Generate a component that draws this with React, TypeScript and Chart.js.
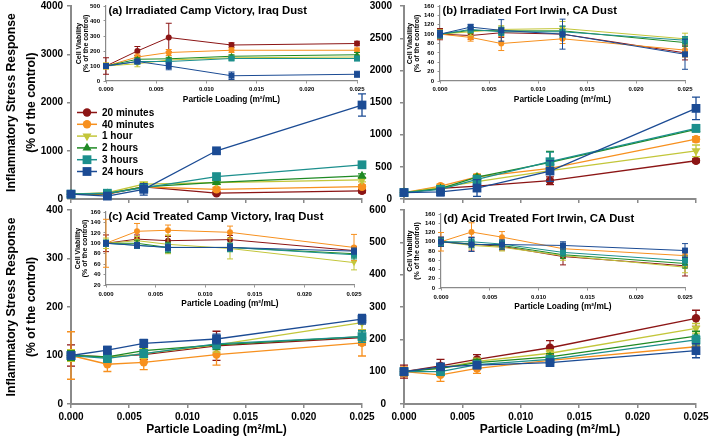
import React, { useEffect, useRef } from "react";
import { Chart, registerables } from "chart.js";

Chart.register(...registerables);

const PAGE_W = 709;
const PAGE_H = 438;
const FONT = "'Liberation Sans', Arial, Helvetica, sans-serif";
const AXIS = "#8a8a8a";

// ---------- data ----------
const loadings = [0, 0.003125, 0.00625, 0.0125, 0.025];
const seriesNames = ["20 minutes", "40 minutes", "1 hour", "2 hours", "3 hours", "24 hours"];
const seriesColors = ["#8c1515", "#f7901e", "#c3c63a", "#1f8a24", "#1c8f8d", "#1b4b94"];
const seriesMarkers = ["circle", "circle", "triangleDown", "triangle", "rect", "rect"];

const panelTitles = [
  "(a) Irradiated Camp Victory, Iraq Dust",
  "(b) Irradiated Fort Irwin, CA Dust",
  "(c) Acid Treated Camp Victory, Iraq Dust",
  "(d) Acid Treated Fort Irwin, CA Dust",
];
const xAxisTitle = "Particle Loading (m²/mL)";
const yTitleMain = ["Inflammatory Stress Response", "(% of the control)"];
const yTitleInset = ["Cell Viability", "(% of the control)"];

// (a) main: inflammatory stress response
const aMainValues = [
  [100, 100, 250, 120, 170],
  [100, 110, 250, 200, 255],
  [100, 130, 310, 340, 395],
  [100, 110, 250, 345, 480],
  [100, 120, 230, 465, 710],
  [100, 60, 200, 1000, 1950],
];
const aMainErrors = [
  [15, 20, 30, 30, 40],
  [15, 20, 30, 40, 40],
  [15, 30, 40, 30, 40],
  [15, 30, 40, 30, 40],
  [15, 30, 60, 60, 60],
  [15, 40, 120, 40, 230],
];
// (a) inset: cell viability
const aInsetValues = [
  [100, 200, 290, 240, 250],
  [100, 160, 190, 205, 205],
  [100, 115, 140, 155, 160],
  [100, 145, 148, 165, 175],
  [100, 130, 130, 150, 150],
  [100, 130, 100, 35, 45],
];
const aInsetErrors = [
  [55, 30, 95, 15, 15],
  [20, 20, 20, 15, 15],
  [20, 20, 15, 15, 15],
  [10, 10, 10, 10, 15],
  [10, 10, 10, 10, 15],
  [10, 15, 25, 25, 20],
];
// (b) main
const bMainValues = [
  [100, 165, 200, 285, 595],
  [100, 200, 345, 475, 930],
  [100, 180, 270, 440, 750],
  [100, 160, 340, 570, 1085],
  [100, 150, 305, 580, 1100],
  [100, 110, 170, 435, 1410],
];
const bMainErrors = [
  [15, 20, 30, 60, 30],
  [15, 30, 40, 50, 40],
  [15, 20, 30, 50, 90],
  [15, 20, 30, 170, 40],
  [15, 20, 60, 150, 50],
  [15, 60, 130, 160, 175],
];
// (b) inset
const bInsetValues = [
  [100, 97, 103, 100, 60],
  [100, 93, 80, 90, 66],
  [100, 105, 110, 112, 90],
  [100, 108, 107, 107, 82],
  [100, 110, 105, 105, 87],
  [100, 115, 108, 100, 57],
];
const bInsetErrors = [
  [12, 8, 10, 10, 15],
  [10, 8, 15, 10, 15],
  [8, 8, 8, 15, 12],
  [8, 6, 8, 10, 8],
  [8, 6, 8, 12, 8],
  [8, 6, 23, 32, 32],
];
// (c) main
const cMainValues = [
  [100, 97, 102, 120, 137],
  [100, 82, 86, 102, 126],
  [100, 96, 104, 122, 168],
  [100, 97, 110, 122, 139],
  [100, 94, 104, 124, 139],
  [100, 111, 125, 134, 175],
];
const cMainErrors = [
  [22, 8, 10, 30, 15],
  [49, 15, 15, 22, 27],
  [12, 8, 10, 15, 15],
  [10, 8, 8, 10, 12],
  [8, 8, 8, 10, 12],
  [5, 8, 8, 10, 10],
];
// (c) inset
const cInsetValues = [
  [100, 108, 105, 107, 86],
  [100, 123, 125, 121, 92],
  [100, 105, 98, 90, 63],
  [100, 100, 92, 92, 80],
  [100, 96, 92, 92, 78],
  [100, 96, 92, 92, 85],
];
const cInsetErrors = [
  [16, 8, 8, 8, 8],
  [46, 15, 10, 12, 25],
  [10, 8, 18, 20, 14],
  [6, 6, 10, 8, 8],
  [6, 6, 8, 8, 8],
  [5, 5, 6, 6, 6],
];
// (d) main
const dMainValues = [
  [100, 118, 138, 174, 265],
  [100, 90, 110, 135, 177],
  [100, 112, 132, 157, 234],
  [100, 110, 128, 146, 210],
  [100, 100, 122, 138, 198],
  [100, 115, 120, 128, 165],
];
const dMainErrors = [
  [20, 20, 15, 22, 25],
  [15, 20, 15, 15, 15],
  [10, 10, 10, 10, 15],
  [10, 10, 10, 10, 15],
  [10, 10, 10, 10, 15],
  [12, 10, 10, 8, 22],
];
// (d) inset
const dInsetValues = [
  [100, 95, 90, 68, 48],
  [100, 121, 110, 85, 70],
  [100, 92, 88, 70, 45],
  [100, 95, 92, 72, 53],
  [100, 100, 95, 77, 59],
  [100, 94, 94, 92, 81],
];
const dInsetErrors = [
  [10, 15, 8, 18, 22],
  [20, 20, 12, 10, 10],
  [8, 8, 8, 10, 12],
  [8, 8, 8, 8, 10],
  [8, 8, 8, 8, 10],
  [10, 15, 10, 8, 15],
];

// ---------- styles ----------
type Style = {
  lineWidth: number;
  radius: Record<string, number>;
  cap: number;
  errWidth: number;
  tickFont: number;
  axisWidth: number;
  tickLen: number;
};
const MAIN_STYLE: Style = {
  lineWidth: 1.3,
  radius: { circle: 4.2, triangle: 5.2, triangleDown: 5.2, rect: 6.2 },
  cap: 4,
  errWidth: 1.3,
  tickFont: 10,
  axisWidth: 2,
  tickLen: 4,
};
const INSET_STYLE: Style = {
  lineWidth: 1,
  radius: { circle: 3, triangle: 3.6, triangleDown: 3.6, rect: 4.2 },
  cap: 3,
  errWidth: 1,
  tickFont: 6,
  axisWidth: 1.2,
  tickLen: 2.5,
};

type PanelSpec = {
  L: number; T: number; R: number; B: number;
  yBoxLeft: number; xBoxBottom: number;
  yMin: number; yMax: number; yStep: number;
  values: number[][]; errors: number[][];
  inset: boolean;
  showXLabels: boolean;
  xLabelPad: number;
  yLabelPad: number;
  yTitle?: string[];
  xTitle?: string;
  title?: string;
  legend?: boolean;
};

// ---------- plugins ----------
const errorBarPlugin = {
  id: "errorBars",
  beforeDatasetDraw(chart: any, args: any, opts: any) {
    const ds = chart.data.datasets[args.index];
    const errs: number[] = ds.errors || [];
    const y = chart.scales.y;
    const ctx = chart.ctx;
    ctx.save();
    ctx.strokeStyle = ds.borderColor;
    ctx.lineWidth = opts.width;
    args.meta.data.forEach((pt: any, j: number) => {
      const v = ds.data[j].y;
      const e = errs[j] || 0;
      if (!e) return;
      const yt = y.getPixelForValue(v + e);
      const yb = y.getPixelForValue(v - e);
      ctx.beginPath();
      ctx.moveTo(pt.x, yt);
      ctx.lineTo(pt.x, yb);
      ctx.moveTo(pt.x - opts.cap, yt);
      ctx.lineTo(pt.x + opts.cap, yt);
      ctx.moveTo(pt.x - opts.cap, yb);
      ctx.lineTo(pt.x + opts.cap, yb);
      ctx.stroke();
    });
    ctx.restore();
  },
};

const panelTitlePlugin = {
  id: "panelTitle",
  afterDraw(chart: any, _args: any, opts: any) {
    if (!opts || !opts.text) return;
    const ctx = chart.ctx;
    const a = chart.chartArea;
    ctx.save();
    ctx.font = `bold ${opts.size}px ${FONT}`;
    ctx.fillStyle = "#000";
    ctx.textBaseline = "middle";
    ctx.textAlign = "left";
    ctx.fillText(opts.text, a.left + opts.dx, a.top + opts.dy);
    ctx.restore();
  },
};

function drawMarker(ctx: CanvasRenderingContext2D, kind: string, x: number, y: number) {
  ctx.beginPath();
  if (kind === "circle") {
    ctx.arc(x, y, 4.2, 0, Math.PI * 2);
  } else if (kind === "rect") {
    ctx.rect(x - 4.4, y - 4.4, 8.8, 8.8);
  } else {
    const r = 5.2;
    const dir = kind === "triangleDown" ? -1 : 1;
    ctx.moveTo(x, y - dir * r);
    ctx.lineTo(x + r * 0.866, y + dir * r * 0.5);
    ctx.lineTo(x - r * 0.866, y + dir * r * 0.5);
    ctx.closePath();
  }
  ctx.fill();
}

const lineLegendPlugin = {
  id: "lineLegend",
  afterDraw(chart: any, _args: any, opts: any) {
    if (!opts || !opts.show) return;
    const ctx = chart.ctx;
    ctx.save();
    seriesNames.forEach((name, i) => {
      const y = opts.y + i * opts.dy;
      const c = seriesColors[i];
      ctx.strokeStyle = c;
      ctx.fillStyle = c;
      ctx.lineWidth = 1.5;
      ctx.beginPath();
      ctx.moveTo(opts.x, y);
      ctx.lineTo(opts.x + 20, y);
      ctx.stroke();
      drawMarker(ctx, seriesMarkers[i], opts.x + 10, y);
      ctx.fillStyle = "#000";
      ctx.font = `bold 10px ${FONT}`;
      ctx.textBaseline = "middle";
      ctx.textAlign = "left";
      ctx.fillText(name, opts.x + 25, y + 0.5);
    });
    ctx.restore();
  },
};

// ---------- config ----------
function buildConfig(p: PanelSpec): any {
  const s = p.inset ? INSET_STYLE : MAIN_STYLE;
  const datasets = seriesNames.map((name, i) => {
    const mk = seriesMarkers[i];
    return {
      label: name,
      data: loadings.map((x, j) => ({ x, y: p.values[i][j] })),
      errors: p.errors[i],
      borderColor: seriesColors[i],
      backgroundColor: seriesColors[i],
      pointBackgroundColor: seriesColors[i],
      pointBorderColor: seriesColors[i],
      borderWidth: s.lineWidth,
      pointStyle: mk === "triangleDown" ? "triangle" : mk,
      pointRotation: mk === "triangleDown" ? 180 : 0,
      pointRadius: s.radius[mk],
      pointHoverRadius: s.radius[mk],
      pointBorderWidth: 0,
      tension: 0,
      clip: false,
      order: seriesNames.length - i,
    };
  });
  const tickFont = { family: FONT, size: s.tickFont, weight: "bold" as const };
  return {
    type: "line",
    data: { datasets },
    options: {
      animation: false,
      responsive: false,
      events: [],
      layout: {
        padding: {
          left: p.yBoxLeft,
          top: p.T,
          right: PAGE_W - p.R,
          bottom: PAGE_H - p.xBoxBottom,
        },
      },
      plugins: {
        legend: { display: false },
        tooltip: { enabled: false },
        title: { display: false },
        errorBars: { cap: s.cap, width: s.errWidth },
        panelTitle: p.title ? { text: p.title, size: 11.3, dx: 2.5, dy: 4.5 } : {},
        lineLegend: p.legend ? { show: true, x: 77, y: 112.5, dy: 11.8 } : { show: false },
      },
      scales: {
        x: {
          type: "linear",
          min: 0,
          max: 0.025,
          ticks: {
            stepSize: 0.005,
            autoSkip: false,
            maxRotation: 0,
            color: "#000",
            font: tickFont,
            padding: p.xLabelPad,
            callback: (v: any) => (p.showXLabels ? Number(v).toFixed(3) : ""),
          },
          grid: {
            display: true,
            drawOnChartArea: false,
            drawTicks: true,
            tickLength: s.tickLen,
            color: AXIS,
            lineWidth: s.axisWidth * 0.75,
          },
          border: { display: true, color: AXIS, width: s.axisWidth },
          title: {
            display: !!p.xTitle,
            text: p.xTitle || "",
            color: "#000",
            font: { family: FONT, size: p.inset ? 8.3 : 12, weight: "bold", lineHeight: 1.2 },
            padding: { top: 0, bottom: p.inset ? 0 : 1 },
          },
          afterFit: (sc: any) => {
            sc.height = p.xBoxBottom - p.B;
            sc.paddingLeft = 0;
            sc.paddingRight = 0;
          },
        },
        y: {
          type: "linear",
          min: p.yMin,
          max: p.yMax,
          ticks: {
            stepSize: p.yStep,
            autoSkip: false,
            color: "#000",
            font: tickFont,
            padding: p.yLabelPad,
            callback: (v: any) => String(Math.round(Number(v))),
          },
          grid: {
            display: true,
            drawOnChartArea: false,
            drawTicks: true,
            tickLength: s.tickLen,
            color: AXIS,
            lineWidth: s.axisWidth * 0.75,
          },
          border: { display: true, color: AXIS, width: s.axisWidth },
          title: {
            display: !!p.yTitle,
            text: p.yTitle || "",
            color: "#000",
            font: p.inset
              ? { family: FONT, size: 7, weight: "bold", lineHeight: 1.05 }
              : { family: FONT, size: 12.2, weight: "bold", lineHeight: 1.6 },
            padding: { top: p.inset ? 0 : 2, bottom: 0 },
          },
          afterFit: (sc: any) => {
            sc.width = p.L - p.yBoxLeft;
            sc.paddingTop = 0;
            sc.paddingBottom = 0;
          },
        },
      },
    },
    plugins: [errorBarPlugin, panelTitlePlugin, lineLegendPlugin],
  };
}

const panels: PanelSpec[] = [
  // main a
  { L: 71, T: 6, R: 362, B: 199, yBoxLeft: 0, xBoxBottom: 207, yMin: 0, yMax: 4000, yStep: 1000,
    values: aMainValues, errors: aMainErrors, inset: false, showXLabels: false, xLabelPad: 3.5, yLabelPad: 4,
    yTitle: yTitleMain, legend: true },
  // main b
  { L: 404, T: 6, R: 696, B: 199, yBoxLeft: 360, xBoxBottom: 207, yMin: 0, yMax: 3000, yStep: 500,
    values: bMainValues, errors: bMainErrors, inset: false, showXLabels: false, xLabelPad: 3.5, yLabelPad: 8 },
  // main c
  { L: 71, T: 210, R: 362, B: 404, yBoxLeft: 0, xBoxBottom: 438, yMin: 0, yMax: 400, yStep: 100,
    values: cMainValues, errors: cMainErrors, inset: false, showXLabels: true, xLabelPad: 3.5, yLabelPad: 4,
    yTitle: yTitleMain, xTitle: xAxisTitle },
  // main d
  { L: 404, T: 210, R: 696, B: 404, yBoxLeft: 360, xBoxBottom: 438, yMin: 0, yMax: 600, yStep: 100,
    values: dMainValues, errors: dMainErrors, inset: false, showXLabels: true, xLabelPad: 3.5, yLabelPad: 14,
    xTitle: xAxisTitle },
  // inset a
  { L: 106, T: 6, R: 357, B: 81, yBoxLeft: 75, xBoxBottom: 104.3, yMin: 0, yMax: 500, yStep: 100,
    values: aInsetValues, errors: aInsetErrors, inset: true, showXLabels: true, xLabelPad: 2.7, yLabelPad: 3.5,
    yTitle: yTitleInset, xTitle: xAxisTitle, title: panelTitles[0] },
  // inset b
  { L: 440, T: 6, R: 685, B: 81, yBoxLeft: 406, xBoxBottom: 104.3, yMin: 0, yMax: 160, yStep: 20,
    values: bInsetValues, errors: bInsetErrors, inset: true, showXLabels: true, xLabelPad: 2.7, yLabelPad: 3.5,
    yTitle: yTitleInset, xTitle: xAxisTitle, title: panelTitles[1] },
  // inset c
  { L: 106, T: 212, R: 354, B: 285, yBoxLeft: 74, xBoxBottom: 309, yMin: 20, yMax: 160, yStep: 20,
    values: cInsetValues, errors: cInsetErrors, inset: true, showXLabels: true, xLabelPad: 3.4, yLabelPad: 3,
    yTitle: yTitleInset, xTitle: xAxisTitle, title: panelTitles[2] },
  // inset d
  { L: 441, T: 214, R: 685, B: 288, yBoxLeft: 406.5, xBoxBottom: 311.3, yMin: 0, yMax: 160, yStep: 20,
    values: dInsetValues, errors: dInsetErrors, inset: true, showXLabels: true, xLabelPad: 3.7, yLabelPad: 3.5,
    yTitle: yTitleInset, xTitle: xAxisTitle, title: panelTitles[3] },
];

function PanelCanvas({ spec }: { spec: PanelSpec }) {
  const ref = useRef<HTMLCanvasElement | null>(null);
  useEffect(() => {
    if (!ref.current) return;
    const chart = new Chart(ref.current, buildConfig(spec));
    return () => chart.destroy();
  }, [spec]);
  return (
    <canvas
      ref={ref}
      width={PAGE_W}
      height={PAGE_H}
      style={{ position: "absolute", left: 0, top: 0, width: PAGE_W, height: PAGE_H }}
    />
  );
}

export default function App() {
  return (
    <div
      style={{
        position: "absolute",
        left: 0,
        top: 0,
        width: PAGE_W,
        height: PAGE_H,
        background: "#ffffff",
        overflow: "hidden",
      }}
    >
      {panels.map((p, i) => (
        <PanelCanvas key={i} spec={p} />
      ))}
    </div>
  );
}
